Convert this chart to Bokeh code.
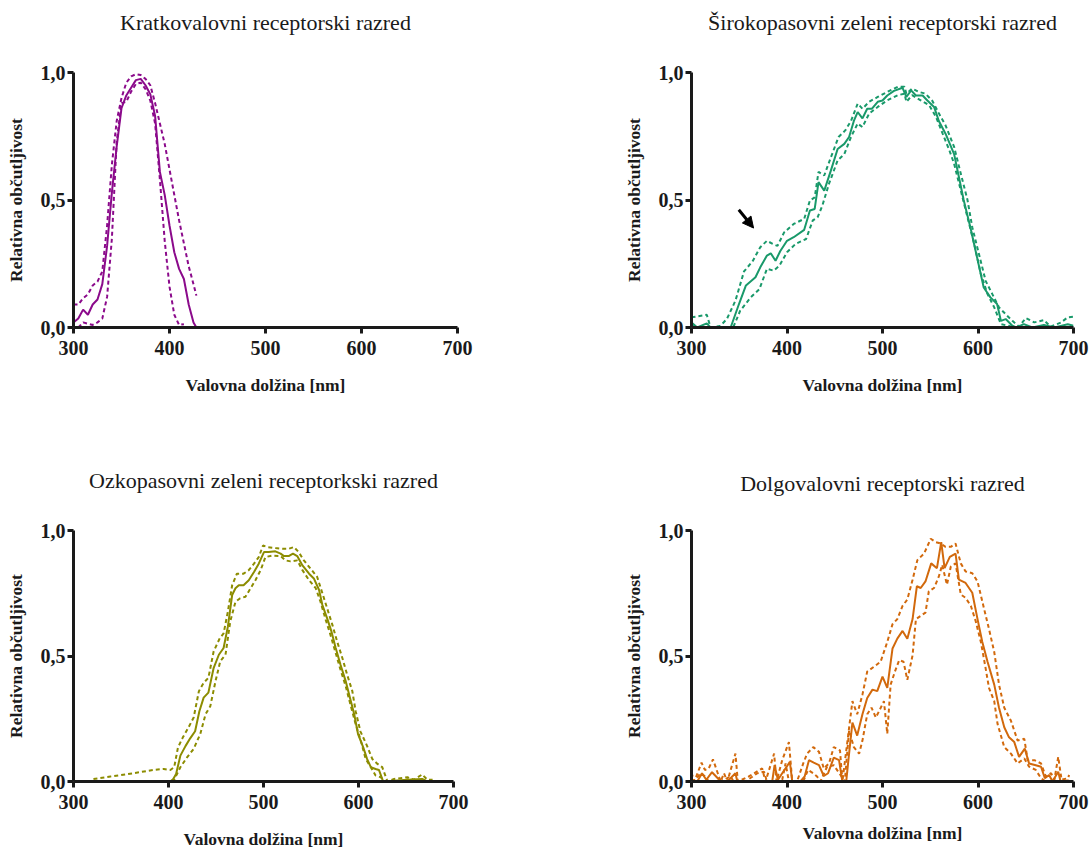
from bokeh.plotting import figure
from bokeh.layouts import column, row
from bokeh.models import Range1d, FixedTicker, Arrow, NormalHead, Label
from bokeh.embed import file_html
from bokeh.resources import INLINE

# ---------------- data ----------------
titles = ["Kratkovalovni receptorski razred",
          "Širokopasovni zeleni receptorski razred",
          "Ozkopasovni zeleni receptorkski razred",
          "Dolgovalovni receptorski razred"]
x_label = "Valovna dolžina [nm]"
y_label = "Relativna občutljivost"
x_ticks = [300, 400, 500, 600, 700]
y_ticks = [0.0, 0.5, 1.0]
y_tick_labels = ["0,0", "0,5", "1,0"]

# short-wave class (purple)
sw_x = [300, 305, 310, 315, 320, 325, 330, 335, 340, 345, 350, 355, 360, 365, 370, 375, 380, 385, 390, 395, 400, 405, 410, 415, 420, 425, 428]
sw_mean = [0.02, 0.035, 0.07, 0.05, 0.09, 0.11, 0.17, 0.32, 0.53, 0.71, 0.86, 0.91, 0.94, 0.97, 0.975, 0.95, 0.915, 0.83, 0.61, 0.52, 0.40, 0.295, 0.23, 0.19, 0.09, 0.02, 0.0]
sw_hi = [0.09, 0.09, 0.115, 0.13, 0.165, 0.18, 0.22, 0.40, 0.64, 0.81, 0.90, 0.96, 0.985, 0.993, 0.99, 0.975, 0.95, 0.88, 0.80, 0.72, 0.62, 0.52, 0.42, 0.33, 0.24, 0.17, 0.125]
sw_lo_x = [305, 310, 315, 320, 325, 330, 335, 340, 345, 350, 355, 360, 365, 370, 375, 380, 385, 390, 395, 400, 405, 410, 415]
sw_lo = [0.0, 0.02, 0.015, 0.01, 0.02, 0.035, 0.12, 0.35, 0.73, 0.88, 0.885, 0.925, 0.955, 0.96, 0.935, 0.89, 0.80, 0.58, 0.34, 0.16, 0.05, 0.01, 0.013]

# broadband green class (green)
bg_x = [300, 306, 316, 320, 330, 341, 350, 357, 367, 372, 379, 383, 388, 393, 400, 407, 418, 424, 429, 433, 439, 446, 453, 460, 465, 470, 474, 479, 484, 489, 495, 500, 505, 512, 521, 525, 530, 535, 542, 547, 554, 559, 566, 575, 580, 585, 592, 599, 606, 613, 620, 624, 629, 636, 640, 648, 657, 669, 680, 694, 700]
bg_mean = [0.02, 0.0, 0.016, 0.0, 0.0, 0.0, 0.095, 0.165, 0.197, 0.236, 0.282, 0.291, 0.262, 0.30, 0.34, 0.354, 0.383, 0.459, 0.465, 0.57, 0.537, 0.616, 0.70, 0.72, 0.747, 0.81, 0.845, 0.82, 0.858, 0.858, 0.885, 0.89, 0.91, 0.928, 0.94, 0.904, 0.93, 0.91, 0.91, 0.89, 0.865, 0.81, 0.76, 0.68, 0.59, 0.50, 0.393, 0.275, 0.157, 0.118, 0.092, 0.026, 0.033, 0.007, 0.0, 0.013, 0.0, 0.01, 0.0, 0.013, 0.007]
bg_hi_x = [300, 316, 320, 330, 337, 346, 355, 364, 372, 379, 385, 390, 397, 407, 418, 424, 429, 433, 439, 446, 454, 461, 467, 474, 479, 486, 495, 505, 516, 523, 525, 531, 538, 545, 552, 559, 566, 575, 582, 589, 594, 601, 608, 615, 622, 629, 636, 643, 650, 659, 669, 676, 687, 694, 700]
bg_hi = [0.04, 0.05, 0.0, 0.006, 0.033, 0.105, 0.22, 0.26, 0.315, 0.34, 0.328, 0.32, 0.373, 0.406, 0.426, 0.498, 0.51, 0.61, 0.596, 0.668, 0.747, 0.773, 0.81, 0.878, 0.858, 0.885, 0.904, 0.924, 0.944, 0.944, 0.917, 0.937, 0.924, 0.917, 0.89, 0.84, 0.793, 0.708, 0.603, 0.50, 0.393, 0.288, 0.183, 0.131, 0.079, 0.052, 0.026, 0.003, 0.037, 0.02, 0.029, 0.003, 0.02, 0.04, 0.042]
bg_lo_x = [300, 310, 320, 330, 344, 351, 362, 371, 379, 386, 392, 400, 409, 420, 427, 432, 437, 444, 453, 460, 467, 474, 479, 486, 495, 505, 516, 523, 525, 531, 540, 549, 556, 563, 570, 575, 582, 589, 596, 603, 610, 617, 624, 640, 660, 680, 700]
bg_lo = [0.007, 0.0, 0.0, 0.0, 0.003, 0.066, 0.118, 0.15, 0.23, 0.223, 0.242, 0.295, 0.328, 0.347, 0.42, 0.432, 0.478, 0.564, 0.655, 0.68, 0.747, 0.80, 0.786, 0.839, 0.865, 0.891, 0.911, 0.917, 0.885, 0.911, 0.891, 0.871, 0.826, 0.76, 0.695, 0.642, 0.537, 0.432, 0.328, 0.21, 0.131, 0.079, 0.013, 0.0, 0.0, 0.0, 0.0]

# narrowband green class (olive)
nb_x = [321, 402, 405, 408, 412.5, 418, 423, 428, 432.5, 437, 442, 447.5, 453, 458, 462.5, 467, 470.5, 474, 479, 484.5, 490, 495, 500.5, 505.5, 512.5, 518, 521.5, 526.5, 531, 535.5, 541, 548, 553, 558.5, 562, 567, 571.5, 576, 581, 586.5, 591, 595.5, 599.5, 605, 609, 613, 618, 621.5, 626, 651.5, 667, 672.5, 676]
nb_mean = [0.0, 0.0, 0.01, 0.03, 0.103, 0.142, 0.173, 0.20, 0.28, 0.334, 0.354, 0.452, 0.505, 0.532, 0.617, 0.743, 0.77, 0.782, 0.782, 0.802, 0.835, 0.868, 0.914, 0.914, 0.917, 0.908, 0.898, 0.898, 0.908, 0.898, 0.861, 0.828, 0.809, 0.763, 0.703, 0.65, 0.598, 0.532, 0.466, 0.40, 0.334, 0.268, 0.189, 0.136, 0.09, 0.057, 0.05, 0.046, 0.0, 0.007, 0.01, 0.0, 0.0]
nb_hi_x = [321, 339, 363, 384, 395, 402, 406, 410, 415, 421, 426.5, 432, 437, 442, 447.5, 454, 458, 462.5, 467, 472, 479, 484.5, 490, 495, 499.5, 504, 512.5, 521.5, 526.5, 532, 537, 542.5, 549.5, 556.5, 562, 567, 572.5, 577.5, 583, 588, 593.5, 597, 602, 609, 614.5, 620, 625, 630.5, 637.5, 651.5, 658.5, 667, 672.5, 678]
nb_hi = [0.01, 0.02, 0.033, 0.046, 0.05, 0.046, 0.057, 0.136, 0.175, 0.215, 0.255, 0.36, 0.393, 0.413, 0.518, 0.571, 0.59, 0.677, 0.782, 0.828, 0.828, 0.842, 0.868, 0.894, 0.94, 0.934, 0.93, 0.927, 0.927, 0.934, 0.914, 0.881, 0.848, 0.815, 0.75, 0.69, 0.624, 0.558, 0.492, 0.426, 0.36, 0.28, 0.20, 0.142, 0.09, 0.07, 0.057, 0.0, 0.01, 0.017, 0.007, 0.028, 0.007, 0.007]
nb_lo_x = [323, 405, 412.5, 419.5, 426.5, 433.5, 439, 444, 449.5, 454.5, 460, 465, 470.5, 475.5, 481, 486.5, 491.5, 497, 502, 509, 518, 523, 528.5, 535.5, 541, 548, 555, 560, 565.5, 570.5, 576, 581, 586.5, 591.5, 597, 602.5, 607.5, 613, 618, 623.5, 627, 644.5, 653, 665.5]
nb_lo = [0.0, 0.0, 0.057, 0.096, 0.13, 0.19, 0.268, 0.30, 0.40, 0.479, 0.505, 0.637, 0.716, 0.73, 0.736, 0.77, 0.802, 0.842, 0.894, 0.90, 0.898, 0.881, 0.877, 0.881, 0.842, 0.802, 0.77, 0.716, 0.644, 0.584, 0.512, 0.446, 0.38, 0.307, 0.228, 0.162, 0.09, 0.057, 0.024, 0.017, 0.0, 0.0, 0.01, 0.0]

# long-wave class (orange)
lw_x = [300, 306, 311, 315.5, 321.5, 327.5, 330.5, 337.5, 346, 348, 360, 384.5, 387, 390.5, 395, 403, 405.5, 414, 418.5, 423, 428, 433.5, 438.5, 443, 449, 454.5, 458, 462, 465, 468.5, 473.5, 479, 484, 489.5, 494.5, 500, 505, 510.5, 515.5, 521, 526, 531.5, 536, 540, 545, 551, 557, 561.5, 565, 570.5, 576.5, 580, 587, 594, 599.5, 604.5, 610, 617, 622, 627.5, 632.5, 638, 643, 649, 653.5, 660.5, 666, 670, 674.5, 678, 684, 686.5, 694, 697]
lw_mean = [0.007, 0.0, 0.033, 0.007, 0.037, 0.013, 0.0, 0.0, 0.033, 0.0, 0.0, 0.0, 0.065, 0.007, 0.033, 0.078, 0.0, 0.0, 0.02, 0.085, 0.075, 0.065, 0.022, 0.033, 0.095, 0.085, 0.0, 0.0, 0.111, 0.235, 0.183, 0.268, 0.333, 0.366, 0.36, 0.418, 0.373, 0.53, 0.569, 0.60, 0.569, 0.647, 0.778, 0.771, 0.797, 0.869, 0.85, 0.954, 0.85, 0.895, 0.908, 0.804, 0.791, 0.752, 0.647, 0.556, 0.477, 0.386, 0.294, 0.216, 0.176, 0.157, 0.098, 0.131, 0.072, 0.065, 0.059, 0.013, 0.026, 0.0, 0.039, 0.0, 0.004, 0.0]
lw_hi_x = [300, 303, 310.5, 314, 318, 322.5, 327.5, 330.5, 334, 337.5, 346, 348.5, 360, 374, 377.5, 386.5, 389, 395, 402, 405.5, 410.5, 417, 421, 427.5, 433.5, 438.5, 444, 449, 455.5, 458, 462.5, 468.5, 473.5, 479, 484, 491, 498, 505, 510.5, 515.5, 521, 526, 531.5, 536.5, 543.5, 550.5, 555.5, 561, 566, 571.5, 576.5, 582, 587, 594, 599.5, 606.5, 611.5, 617, 622, 627.5, 634.5, 641.5, 648.5, 652, 659, 666, 671, 676.5, 680, 684, 687.5, 694, 695.5]
lw_hi = [0.035, 0.0, 0.075, 0.046, 0.052, 0.088, 0.033, 0.0, 0.033, 0.0, 0.111, 0.0, 0.02, 0.052, 0.0, 0.111, 0.0, 0.085, 0.157, 0.0, 0.0, 0.072, 0.111, 0.137, 0.118, 0.052, 0.072, 0.137, 0.124, 0.0, 0.137, 0.32, 0.268, 0.346, 0.438, 0.457, 0.477, 0.556, 0.627, 0.647, 0.70, 0.725, 0.804, 0.882, 0.908, 0.967, 0.954, 0.948, 0.935, 0.935, 0.948, 0.869, 0.837, 0.83, 0.797, 0.686, 0.608, 0.516, 0.386, 0.294, 0.242, 0.163, 0.17, 0.085, 0.085, 0.072, 0.02, 0.033, 0.007, 0.098, 0.007, 0.013, 0.026]
lw_lo_x = [300, 304, 309.5, 314.5, 318, 330, 341, 344, 356.5, 369, 376, 379, 390, 395, 398.5, 402, 412, 418, 422, 427.5, 431.5, 435, 442, 449, 456, 460.5, 465, 470, 475.5, 479, 484, 488.5, 493, 496.5, 501.5, 505, 508.5, 513, 517.5, 522, 526, 531.5, 535, 540, 545, 548.5, 554, 559, 562.5, 567.5, 571.5, 576.5, 582, 587, 592.5, 597.5, 603, 608, 611.5, 617, 620.5, 627.5, 634.5, 641.5, 648.5, 653.5, 660.5, 666, 671, 680]
lw_lo = [0.0, 0.007, 0.033, 0.02, 0.0, 0.0, 0.02, 0.0, 0.0, 0.033, 0.039, 0.0, 0.0, 0.007, 0.072, 0.0, 0.0, 0.009, 0.046, 0.033, 0.02, 0.0, 0.059, 0.065, 0.026, 0.0, 0.203, 0.137, 0.111, 0.163, 0.268, 0.294, 0.255, 0.281, 0.32, 0.19, 0.386, 0.438, 0.484, 0.477, 0.405, 0.503, 0.647, 0.66, 0.673, 0.758, 0.771, 0.817, 0.863, 0.784, 0.856, 0.869, 0.745, 0.732, 0.70, 0.64, 0.556, 0.451, 0.373, 0.32, 0.229, 0.137, 0.111, 0.072, 0.092, 0.059, 0.046, 0.013, 0.0, 0.0]

# arrow annotation in the broadband panel (data units)
arrow_start = (349.5, 0.462)
arrow_end = (365.0, 0.39)

colors = ["#8b0a8b", "#19996a", "#8c8c00", "#d2690c"]

# ---------------- styling helpers ----------------
SERIF = "Liberation Serif"
AX = "#1a1a1a"


def make_title(text, width, height, cx, cy_from_top):
    """A strip above each panel that only carries the panel title."""
    t = figure(width=width, height=height,
               x_range=Range1d(0, width), y_range=Range1d(0, height),
               x_axis_type=None, y_axis_type=None,
               output_backend="svg", toolbar_location=None,
               min_border_left=0, min_border_right=0,
               min_border_top=0, min_border_bottom=0)
    t.outline_line_color = None
    t.xgrid.visible = False
    t.ygrid.visible = False
    t.add_layout(Label(x=cx, y=height - cy_from_top, text=text,
                       text_align="center", text_baseline="middle",
                       text_font=SERIF, text_font_size="22px",
                       text_color="#1a1a1a"))
    return t


def make_panel(width, height, bl, br, bt, bb, xlab_standoff):
    p = figure(width=width, height=height,
               x_range=Range1d(300, 700), y_range=Range1d(0, 1),
               output_backend="svg", toolbar_location=None,
               min_border_left=bl, min_border_right=br,
               min_border_top=bt, min_border_bottom=bb)
    p.outline_line_color = None
    p.xgrid.visible = False
    p.ygrid.visible = False
    p.background_fill_color = "white"
    p.border_fill_color = "white"

    p.xaxis.ticker = FixedTicker(ticks=x_ticks)
    p.yaxis.ticker = FixedTicker(ticks=y_ticks)
    p.yaxis.major_label_overrides = {t: s for t, s in zip(y_ticks, y_tick_labels)}
    p.xaxis.axis_label = x_label
    p.yaxis.axis_label = y_label
    for ax in (p.xaxis[0], p.yaxis[0]):
        ax.axis_line_width = 3
        ax.axis_line_color = AX
        ax.major_tick_line_width = 3
        ax.major_tick_line_color = AX
        ax.major_tick_out = 6
        ax.major_tick_in = 0
        ax.minor_tick_line_color = None
        ax.major_label_text_font = SERIF
        ax.major_label_text_font_style = "bold"
        ax.major_label_text_font_size = "20px"
        ax.major_label_text_color = AX
        ax.axis_label_text_font = SERIF
        ax.axis_label_text_font_style = "bold"
        ax.axis_label_text_font_size = "17.5px"
        ax.axis_label_text_color = AX
    p.xaxis.major_label_standoff = 7
    p.xaxis.axis_label_standoff = xlab_standoff
    p.yaxis.major_label_standoff = 2
    p.yaxis.axis_label_standoff = 12
    return p


def draw(p, color, mx, my, hx, hy, lx, ly):
    p.line(hx, hy, line_color=color, line_width=2, line_dash="4 3")
    p.line(lx, ly, line_color=color, line_width=2, line_dash="4 3")
    p.line(mx, my, line_color=color, line_width=2)


t1 = make_title(titles[0], 618, 58, 265, 22)
t2 = make_title(titles[1], 473, 58, 264, 22)
t3 = make_title(titles[2], 618, 86, 263, 52)
t4 = make_title(titles[3], 473, 86, 264, 55)

p1 = make_panel(618, 370, 73, 161, 14, 101, 17)
draw(p1, colors[0], sw_x, sw_mean, sw_x, sw_hi, sw_lo_x, sw_lo)

p2 = make_panel(473, 370, 73, 18, 14, 101, 17)
draw(p2, colors[1], bg_x, bg_mean, bg_hi_x, bg_hi, bg_lo_x, bg_lo)
p2.add_layout(Arrow(end=NormalHead(size=11, fill_color="black", line_color="black"),
                    x_start=arrow_start[0], y_start=arrow_start[1],
                    x_end=arrow_end[0], y_end=arrow_end[1],
                    line_color="black", line_width=3))

p3 = make_panel(618, 337, 73, 165, 14, 70, 17)
draw(p3, colors[2], nb_x, nb_mean, nb_hi_x, nb_hi, nb_lo_x, nb_lo)

p4 = make_panel(473, 337, 73, 18, 16, 66, 11)
draw(p4, colors[3], lw_x, lw_mean, lw_hi_x, lw_hi, lw_lo_x, lw_lo)

layout = column(row(t1, t2), row(p1, p2), row(t3, t4), row(p3, p4))

with open("out.html", "w") as f:
    f.write(file_html(layout, INLINE))
